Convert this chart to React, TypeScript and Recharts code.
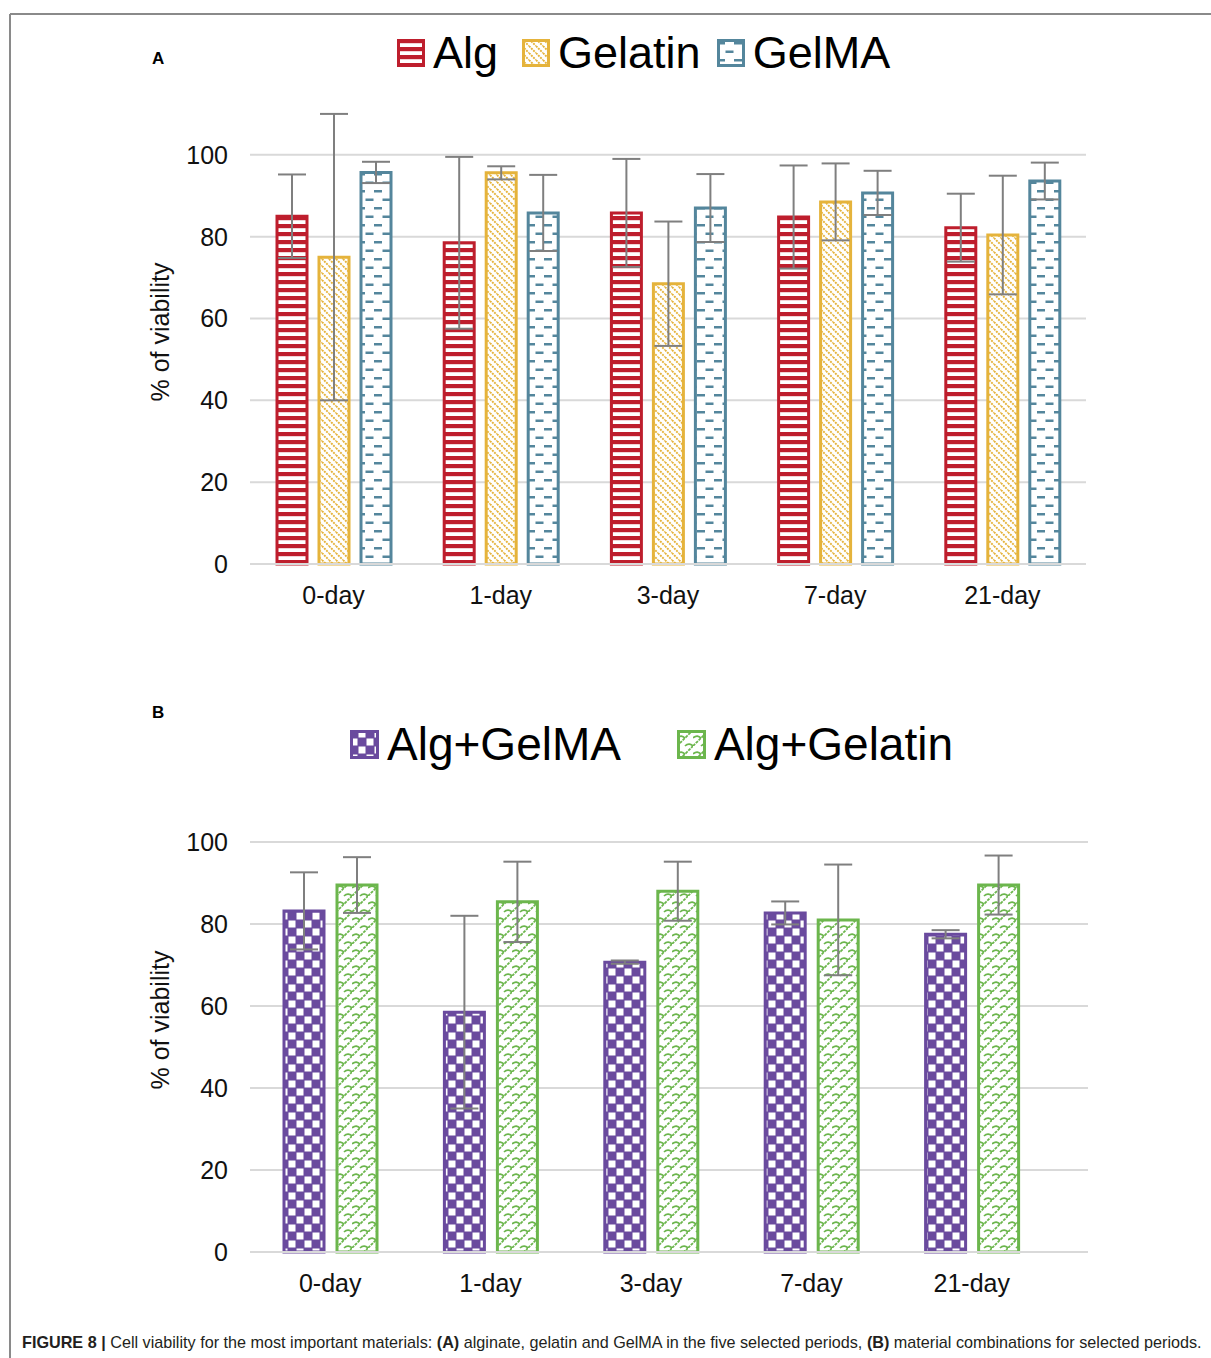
import React from 'react';
import { BarChart, Bar, XAxis, YAxis, CartesianGrid, ErrorBar, Legend } from 'recharts';

const FONT = '"Liberation Sans", Arial, Helvetica, sans-serif';

const categories = ['0-day', '1-day', '3-day', '7-day', '21-day'];
const yTicks = [0, 20, 40, 60, 80, 100];
const Y_MAX = 120;

const alg = [85, 78.5, 85.8, 84.8, 82.2];
const algErr = [10.2, 21, 13.2, 12.6, 8.3];
const gelatin = [75, 95.6, 68.5, 88.5, 80.4];
const gelatinErr = [35, 1.6, 15.2, 9.4, 14.5];
const gelma = [95.7, 85.8, 87, 90.7, 93.6];
const gelmaErr = [2.6, 9.3, 8.3, 5.4, 4.5];

const algGelma = [83.2, 58.5, 70.7, 82.7, 77.5];
const algGelmaErr = [9.4, 23.5, 0.4, 2.8, 1];
const algGelatin = [89.5, 85.4, 88, 81, 89.5];
const algGelatinErr = [6.8, 9.8, 7.2, 13.5, 7.2];

const dataA = categories.map((c, i) => ({
  name: c,
  alg: alg[i], algErr: algErr[i],
  gelatin: gelatin[i], gelatinErr: gelatinErr[i],
  gelma: gelma[i], gelmaErr: gelmaErr[i],
}));
const dataB = categories.map((c, i) => ({
  name: c,
  algGelma: algGelma[i], algGelmaErr: algGelmaErr[i],
  algGelatin: algGelatin[i], algGelatinErr: algGelatinErr[i],
}));

const RED = '#BE1E2D';
const YELLOW = '#E5B33B';
const BLUE = '#54869C';
const PURPLE = '#6A4A9E';
const GREEN = '#6CB64D';
const ERR = '#7F7F7F';
const GRID = '#D9D9D9';

const Patterns = () => (
  <defs>
    <pattern id="pAlg" width="8" height="8" patternUnits="userSpaceOnUse">
      <rect width="8" height="8" fill="#fff" />
      <rect y="0" width="8" height="4.2" fill={RED} />
    </pattern>
    <pattern id="pGelatin" width="7" height="7" patternUnits="userSpaceOnUse">
      <rect width="7" height="7" fill="#fff" />
      <path d="M0,0 L7,7 M-3.5,3.5 L3.5,10.5 M3.5,-3.5 L10.5,3.5" stroke={YELLOW} strokeWidth="1.9" strokeDasharray="2 1" />
    </pattern>
    <pattern id="pGelma" width="17" height="17" patternUnits="userSpaceOnUse">
      <rect width="17" height="17" fill="#fff" />
      <rect x="0" y="3" width="8" height="2.5" fill={BLUE} />
      <rect x="8.5" y="11.5" width="8" height="2.5" fill={BLUE} />
    </pattern>
    <pattern id="pAlgGelma" width="16" height="16" patternUnits="userSpaceOnUse">
      <rect width="16" height="16" fill={PURPLE} />
      <rect x="8.5" y="0.5" width="7" height="7" fill="#fff" />
      <rect x="0.5" y="8.5" width="7" height="7" fill="#fff" />
    </pattern>
    <pattern id="pAlgGelatin" width="16" height="16" patternUnits="userSpaceOnUse">
      <rect width="16" height="16" fill="#fff" />
      <path d="M0,16 L16,0" stroke={GREEN} strokeWidth="1.8" strokeDasharray="3 1" />
      <path d="M0,8 C3,5 6,6 8,8 M8,16 C11,13 14,14 16,16 M8,0 C11,-3 14,-2 16,0" stroke={GREEN} strokeWidth="1.7" fill="none" />
    </pattern>
  </defs>
);

const Swatch = ({ pat, color, size }: { pat: string; color: string; size: number }) => (
  <svg width={size} height={size} style={{ display: 'block', flex: 'none' }}>
    <rect x={1.5} y={1.5} width={size - 3} height={size - 3} fill={`url(#${pat})`} stroke={color} strokeWidth={3} />
  </svg>
);

const legendA = [
  { pat: 'pAlg', color: RED, label: 'Alg', gap: 0 },
  { pat: 'pGelatin', color: YELLOW, label: 'Gelatin', gap: 24 },
  { pat: 'pGelma', color: BLUE, label: 'GelMA', gap: 16 },
];
const legendB = [
  { pat: 'pAlgGelma', color: PURPLE, label: 'Alg+GelMA', gap: 0 },
  { pat: 'pAlgGelatin', color: GREEN, label: 'Alg+Gelatin', gap: 56 },
];

const LegendContent = ({ items, size, fontSize }: any) => (
  <div style={{ display: 'flex', alignItems: 'center', fontFamily: FONT, fontSize, lineHeight: 1, height: fontSize, color: '#000', whiteSpace: 'nowrap' }}>
    {items.map((it: any) => (
      <div key={it.label} style={{ display: 'flex', alignItems: 'center', marginLeft: it.gap }}>
        <Swatch pat={it.pat} color={it.color} size={size} />
        <span style={{ marginLeft: 8 }}>{it.label}</span>
      </div>
    ))}
  </div>
);

const tickStyle = { fontSize: 25, fill: '#111', fontFamily: FONT };

const yLabel = (x: number, y: number) => () => (
  <text x={x} y={y} transform={`rotate(-90 ${x} ${y})`} textAnchor="middle" dominantBaseline="central"
    style={{ fontSize: 25, fontFamily: FONT, fill: '#111' }}>% of viability</text>
);

const gridGen = (props: any) => {
  const { yAxis, offset } = props;
  if (yAxis && typeof yAxis.scale === 'function') {
    return yTicks.map((t) => yAxis.scale(t));
  }
  return yTicks.map((t) => offset.top + offset.height * (1 - t / Y_MAX));
};

export default function App() {
  return (
    <div style={{ position: 'absolute', left: 0, top: 0, width: 1211, height: 1358, background: '#fff', overflow: 'hidden' }}>
      <svg width={1211} height={1358} style={{ position: 'absolute', left: 0, top: 0 }}>
        <line x1={10} y1={14} x2={1211} y2={14} stroke="#8A8A8A" strokeWidth={2} />
        <line x1={10} y1={14} x2={10} y2={1358} stroke="#8A8A8A" strokeWidth={2} />
        <text x={152} y={64} style={{ fontSize: 17, fontWeight: 'bold', fontFamily: FONT }}>A</text>
        <text x={152} y={718} style={{ fontSize: 17, fontWeight: 'bold', fontFamily: FONT }}>B</text>
      </svg>

      <div style={{ position: 'absolute', left: 0, top: 0 }}>
        <BarChart width={1211} height={640} data={dataA} margin={{ top: 28, right: 125, bottom: 36, left: 150 }}
          barSize={30} barGap={12}>
          <Patterns />
          <CartesianGrid vertical={false} stroke={GRID} strokeWidth={2} horizontalCoordinatesGenerator={gridGen} />
          <XAxis dataKey="name" tick={tickStyle} tickLine={false} tickSize={0} tickMargin={22} height={40}
            axisLine={{ stroke: GRID, strokeWidth: 2 }} />
          <YAxis domain={[0, Y_MAX]} ticks={yTicks} tick={tickStyle} tickLine={false} tickSize={0} tickMargin={22}
            axisLine={false} width={100} label={{ content: yLabel(160, 332) }} />
          <Legend verticalAlign="top" wrapperStyle={{ position: 'absolute', left: 397, top: 30, width: 'auto', height: 45 }}
            content={() => <LegendContent items={legendA} size={28} fontSize={45} />} />
          <Bar dataKey="alg" fill="url(#pAlg)" stroke={RED} strokeWidth={3} isAnimationActive={false}>
            <ErrorBar dataKey="algErr" width={14} stroke={ERR} strokeWidth={2} isAnimationActive={false} />
          </Bar>
          <Bar dataKey="gelatin" fill="url(#pGelatin)" stroke={YELLOW} strokeWidth={3} isAnimationActive={false}>
            <ErrorBar dataKey="gelatinErr" width={14} stroke={ERR} strokeWidth={2} isAnimationActive={false} />
          </Bar>
          <Bar dataKey="gelma" fill="url(#pGelma)" stroke={BLUE} strokeWidth={3} isAnimationActive={false}>
            <ErrorBar dataKey="gelmaErr" width={14} stroke={ERR} strokeWidth={2} isAnimationActive={false} />
          </Bar>
        </BarChart>
      </div>

      <div style={{ position: 'absolute', left: 0, top: 640 }}>
        <BarChart width={1211} height={718} data={dataB} margin={{ top: 74, right: 123, bottom: 66, left: 150 }}
          barSize={40} barGap={13}>
          <Patterns />
          <CartesianGrid vertical={false} stroke={GRID} strokeWidth={2} horizontalCoordinatesGenerator={gridGen} />
          <XAxis dataKey="name" tick={tickStyle} tickLine={false} tickSize={0} tickMargin={22} height={40}
            padding={{ left: 0, right: 36 }} axisLine={{ stroke: GRID, strokeWidth: 2 }} />
          <YAxis domain={[0, Y_MAX]} ticks={yTicks} tick={tickStyle} tickLine={false} tickSize={0} tickMargin={22}
            axisLine={false} width={100} label={{ content: yLabel(160, 380) }} />
          <Legend verticalAlign="top" wrapperStyle={{ position: 'absolute', left: 350, top: 81, width: 'auto', height: 46 }}
            content={() => <LegendContent items={legendB} size={29} fontSize={46} />} />
          <Bar dataKey="algGelma" fill="url(#pAlgGelma)" stroke={PURPLE} strokeWidth={3} isAnimationActive={false}>
            <ErrorBar dataKey="algGelmaErr" width={14} stroke={ERR} strokeWidth={2} isAnimationActive={false} />
          </Bar>
          <Bar dataKey="algGelatin" fill="url(#pAlgGelatin)" stroke={GREEN} strokeWidth={3} isAnimationActive={false}>
            <ErrorBar dataKey="algGelatinErr" width={14} stroke={ERR} strokeWidth={2} isAnimationActive={false} />
          </Bar>
        </BarChart>
      </div>

      <div style={{ position: 'absolute', left: 22, top: 1334, fontSize: 16.2, fontFamily: FONT, color: '#231F20', whiteSpace: 'nowrap', lineHeight: 1.1 }}>
        <b>FIGURE 8 |</b> Cell viability for the most important materials: <b>(A)</b> alginate, gelatin and GelMA in the five selected periods, <b>(B)</b> material combinations for selected periods.
      </div>
    </div>
  );
}
